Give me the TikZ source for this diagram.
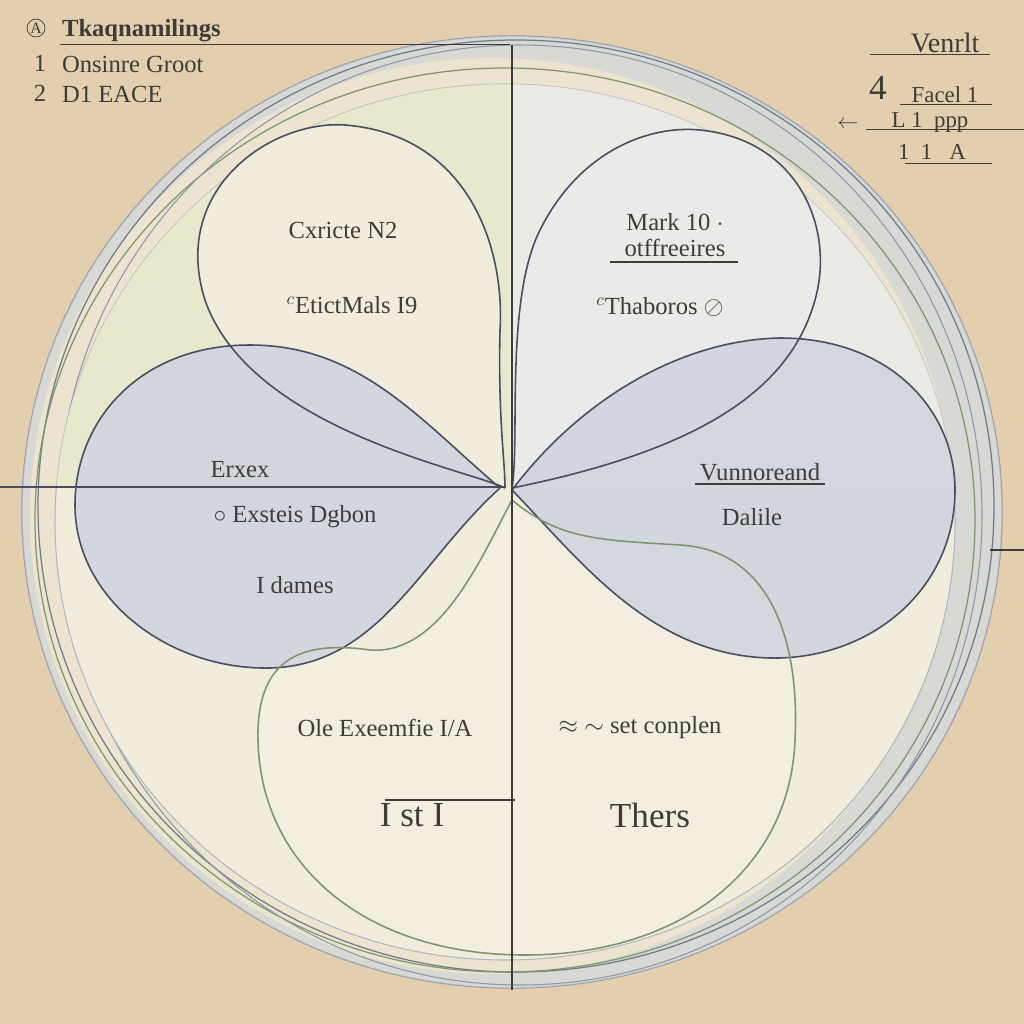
\documentclass[tikz,border=0pt]{standalone}
\usepackage{fontspec}
\setmainfont{Liberation Serif}
\usepackage{amsmath,amssymb}
\usetikzlibrary{calc}
\definecolor{paper}{RGB}{227,207,174}
\definecolor{cream}{RGB}{241,236,220}
\definecolor{pale}{RGB}{236,228,206}
\definecolor{sage}{RGB}{229,231,200}
\definecolor{mist}{RGB}{234,234,232}
\definecolor{slate}{RGB}{208,211,224}
\definecolor{ink}{RGB}{62,60,56}
\definecolor{edge}{RGB}{70,78,95}
\definecolor{leaf}{RGB}{125,150,110}
\definecolor{ring}{RGB}{140,152,170}

\begin{document}
\begin{tikzpicture}[x=0.2mm,y=-0.2mm]
\tikzstyle{label}=[text=ink,inner sep=1pt,font=\fontsize{14}{16}\selectfont]
\tikzstyle{small}=[label,font=\fontsize{13}{15}\selectfont]
\tikzstyle{lobe}=[draw=edge,line width=0.9pt]
\useasboundingbox (0,0) rectangle (1024,1024);
\fill[paper] (0,0) rectangle (1024,1024);

% Outer rings
\filldraw[fill=pale,draw=ring,line width=0.8pt] (512,512) ellipse (490 and 476);
\fill[ring!45,opacity=0.6,even odd rule] (512,512) ellipse (490 and 476) (492,516) ellipse (462 and 458);
\draw[ring!80!black,line width=0.7pt] (516,506) ellipse (478 and 466);
\draw[leaf,line width=0.7pt] (505,520) ellipse (470 and 452);
\draw[ring,line width=0.6pt] (520,515) ellipse (462 and 470);
\filldraw[fill=cream,draw=ring!70,line width=0.6pt] (505,522) ellipse (450 and 438);
\begin{scope}
\clip (505,522) ellipse (450 and 438);
\fill[sage,opacity=0.8] (0,0) rectangle (510,487);
\fill[mist,opacity=0.8] (514,0) rectangle (1024,487);
\end{scope}

% Lobes, fills
\fill[cream] (505,488) .. controls (470,470) and (250,430) .. (205,300) .. controls (170,190) and (270,120) .. (345,125) .. controls (470,135) and (505,250) .. (500,330) .. controls (498,420) and (505,460) .. (505,488);
\fill[mist] (512,488) .. controls (520,440) and (505,300) .. (540,230) .. controls (580,150) and (650,125) .. (700,130) .. controls (800,140) and (835,230) .. (815,300) .. controls (790,390) and (700,450) .. (512,488);
\fill[cream!90!white] (512,500) .. controls (560,540) and (600,540) .. (680,545) .. controls (770,550) and (800,640) .. (795,740) .. controls (790,870) and (680,955) .. (525,955) .. controls (360,955) and (255,860) .. (258,730) .. controls (260,660) and (300,640) .. (370,650) .. controls (440,655) and (480,560) .. (512,500);
\fill[slate,opacity=0.85] (500,488) .. controls (420,420) and (360,345) .. (250,345) .. controls (140,345) and (75,420) .. (75,505) .. controls (75,600) and (170,670) .. (270,668) .. controls (380,665) and (420,560) .. (500,488);
\fill[slate,opacity=0.85] (512,490) .. controls (580,400) and (680,340) .. (780,338) .. controls (890,338) and (955,410) .. (955,490) .. controls (955,590) and (870,660) .. (770,658) .. controls (650,655) and (580,560) .. (512,490);

% Lobes, outlines
\draw[lobe] (505,488) .. controls (470,470) and (250,430) .. (205,300) .. controls (170,190) and (270,120) .. (345,125) .. controls (470,135) and (505,250) .. (500,330) .. controls (498,420) and (505,460) .. (505,488);
\draw[lobe] (512,488) .. controls (520,440) and (505,300) .. (540,230) .. controls (580,150) and (650,125) .. (700,130) .. controls (800,140) and (835,230) .. (815,300) .. controls (790,390) and (700,450) .. (512,488);
\draw[lobe] (500,488) .. controls (420,420) and (360,345) .. (250,345) .. controls (140,345) and (75,420) .. (75,505) .. controls (75,600) and (170,670) .. (270,668) .. controls (380,665) and (420,560) .. (500,488);
\draw[lobe] (512,490) .. controls (580,400) and (680,340) .. (780,338) .. controls (890,338) and (955,410) .. (955,490) .. controls (955,590) and (870,660) .. (770,658) .. controls (650,655) and (580,560) .. (512,490);
\draw[leaf,line width=0.9pt] (512,500) .. controls (560,540) and (600,540) .. (680,545) .. controls (770,550) and (800,640) .. (795,740) .. controls (790,870) and (680,955) .. (525,955) .. controls (360,955) and (255,860) .. (258,730) .. controls (260,660) and (300,640) .. (370,650) .. controls (440,655) and (480,560) .. (512,500);

% Axes
\draw[ink,line width=0.9pt] (512,45) -- (512,990);
\draw[edge,line width=0.8pt] (0,487) -- (505,487);
\draw[ink,line width=0.6pt] (990,550) -- (1024,550);

% Legend, top left
\node (mark) [draw=ink,circle,inner sep=0.5pt,text=ink,font=\fontsize{9}{10}\selectfont] at (36,28) {A};
\node (title) [label,anchor=west,font=\fontsize{14}{16}\bfseries] at (60,31) {Tkaqnamilings};
\draw[ink,line width=0.7pt] (title.south west) -- ($(title.south west)+(450,0)$);
\node (one) [label] at (40,63) {1};
\node (grp) [label,anchor=west] at (60,64) {Onsinre Groot};
\node (two) [label] at (40,93) {2};
\node (eace) [label,anchor=west] at (60,94) {D1 EACE};

% Legend, top right
\node (venn) [label,font=\fontsize{16}{18}\selectfont] at (945,43) {Venrlt};
\draw[ink,line width=0.5pt] (870,54) -- (990,54);
\node (four) [label,font=\fontsize{20}{22}\selectfont] at (878,88) {4};
\node (facel) [small] at (945,95) {Facel 1};
\draw[ink,line width=0.5pt] (900,104) -- (992,104);
\node (back) [small] at (848,125) {$\leftarrow$};
\node (ppp) [small] at (930,122) {L 1 \ ppp};
\draw[ink,line width=0.5pt] (866,129) -- (1024,129);
\node (ones) [small] at (932,152) {1 \ 1 \ \ A};
\draw[ink,line width=0.5pt] (905,163) -- (992,163);

% Texts in the lobes
\node (tl1) [label] at (343,230) {Cxricte N2};
\node (tl2) [label] at (352,305) {$^{c}$EtictMals I9};
\node (tr1) [label] at (675,222) {Mark 10 $\cdot$};
\node (tr2) [label] at (675,248) {otffreeires};
\draw[ink,line width=0.9pt] (610,262) -- (738,262);
\node (tr3) [label] at (660,307) {$^{c}$Thaboros $\oslash$};
\node (l1) [label] at (240,470) {Erxex};
\node (l2) [label] at (295,517) {$\circ$ Exsteis Dgbon};
\node (l3) [label] at (295,585) {I dames};
\node (r1) [label] at (760,472) {Vunnoreand};
\draw[ink,line width=0.9pt] (695,484) -- (825,484);
\node (r2) [label] at (752,517) {Dalile};
\node (b1) [label] at (385,728) {Ole Exeemfie I/A};
\node (b2) [label] at (640,728) {$\approx$ $\sim$ set conplen};
\node (b3) [label,font=\fontsize{20}{22}\selectfont] at (412,815) {I st I};
\draw[ink,line width=0.8pt] (385,800) -- (515,800);
\node (b4) [label,font=\fontsize{20}{22}\selectfont] at (650,815) {Thers};

\end{tikzpicture}
\end{document}
